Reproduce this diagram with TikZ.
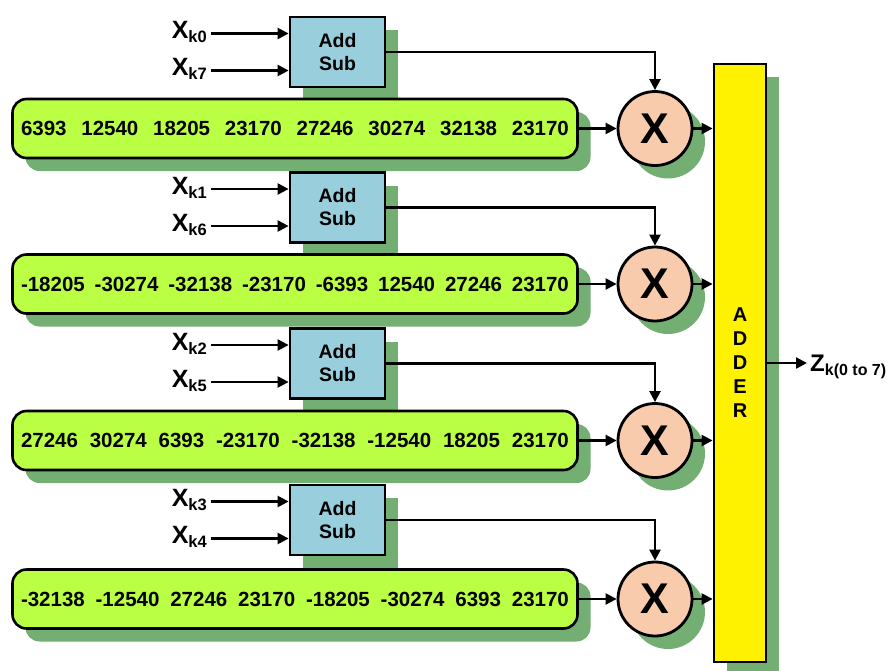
\documentclass[tikz,border=0pt]{standalone}
\usepackage{fontspec}
\setmainfont{Liberation Sans}
\usetikzlibrary{arrows.meta,shadows}
\definecolor{shd}{HTML}{73AE73}
\definecolor{lime}{HTML}{BBFF44}
\definecolor{boxblue}{HTML}{99CFDD}
\definecolor{peach}{HTML}{F8CBAD}
\begin{document}
\begin{tikzpicture}[x=1pt,y=-1pt,
  shadowed/.style={general shadow={fill=shd,shadow xshift=13pt,shadow yshift=-13pt}},
  addsub/.style={draw,line width=2.8pt,fill=boxblue,minimum width=95pt,minimum height=70pt,
    inner sep=0pt,align=center,font=\bfseries\fontsize{19.5}{23}\selectfont,shadowed},
  coeffbar/.style={draw,line width=2.6pt,fill=lime,rounded corners=14pt,minimum width=565pt,
    minimum height=59pt,inner sep=0pt,font=\bfseries\fontsize{20.5}{23}\selectfont,shadowed},
  mult/.style={circle,draw,line width=2.8pt,fill=peach,minimum size=74pt,inner sep=0pt,
    font=\bfseries\fontsize{43}{43}\selectfont,shadowed},
  adderbox/.style={draw,line width=2.8pt,fill=yellow,minimum width=52pt,minimum height=598pt,
    inner sep=0pt,align=center,font=\bfseries\fontsize{20}{24}\selectfont,shadowed},
  wire/.style={line width=2.3pt,-{Triangle[length=11pt,width=11pt]}},
  xlab/.style={anchor=base east,inner sep=0pt,font=\bfseries\fontsize{25}{25}\selectfont}
]
\useasboundingbox (0,0) rectangle (891,670);

% one row per butterfly stage: add/sub box, coefficient bar, multiplier
\foreach \i/\by/\cy/\ka/\kb/\coef in {
  0/52/128.5/0/7/{6393\hfill 12540\hfill 18205\hfill 23170\hfill 27246\hfill 30274\hfill 32138\hfill 23170},
  1/207.5/284/1/6/{-18205\hfill -30274\hfill -32138\hfill -23170\hfill -6393\hfill 12540\hfill 27246\hfill 23170},
  2/363.5/440.5/2/5/{27246\hfill 30274\hfill 6393\hfill -23170\hfill -32138\hfill -12540\hfill 18205\hfill 23170},
  3/520/599/3/4/{-32138\hfill -12540\hfill 27246\hfill 23170\hfill -18205\hfill -30274\hfill 6393\hfill 23170}}{
  \node[addsub] (as\i) at (337.5,\by) {Add\\Sub};
  \node[coeffbar] (bar\i) at (295,\cy) {\hbox to 548pt{\coef}};
  \node[mult] (mul\i) at (655,\cy) {X};
  \coordinate (ina\i) at (211,\by-18.5);
  \coordinate (inb\i) at (211,\by+18.5);
  \node[xlab] (la\i) at (207,\by-18.5+5) {X\raisebox{-4pt}{\fontsize{16.5}{16.5}\selectfont k\ka}};
  \node[xlab] (lb\i) at (207,\by+18.5+5) {X\raisebox{-4pt}{\fontsize{16.5}{16.5}\selectfont k\kb}};
}

\node[adderbox] (adder) at (740,363) {A\\D\\D\\E\\R};
\coordinate (zout) at (807,363);
\node[anchor=base west,inner sep=0pt,font=\bfseries\fontsize{24}{24}\selectfont] (zlab) at (810,371)
  {Z\raisebox{-4pt}{\fontsize{16}{16}\selectfont k(0 to 7)}};

% connectors
\foreach \i in {0,1,2,3}{
  \draw[wire] (ina\i) -- (ina\i -| as\i.west);
  \draw[wire] (inb\i) -- (inb\i -| as\i.west);
  \draw[wire] (as\i.east) -| (mul\i.north);
  \draw[wire] (bar\i.east) -- (mul\i.west);
  \draw[wire] (mul\i.east) -- (mul\i.east -| adder.west);
}
\draw[wire] (adder.east) -- (zout);
\end{tikzpicture}
\end{document}
